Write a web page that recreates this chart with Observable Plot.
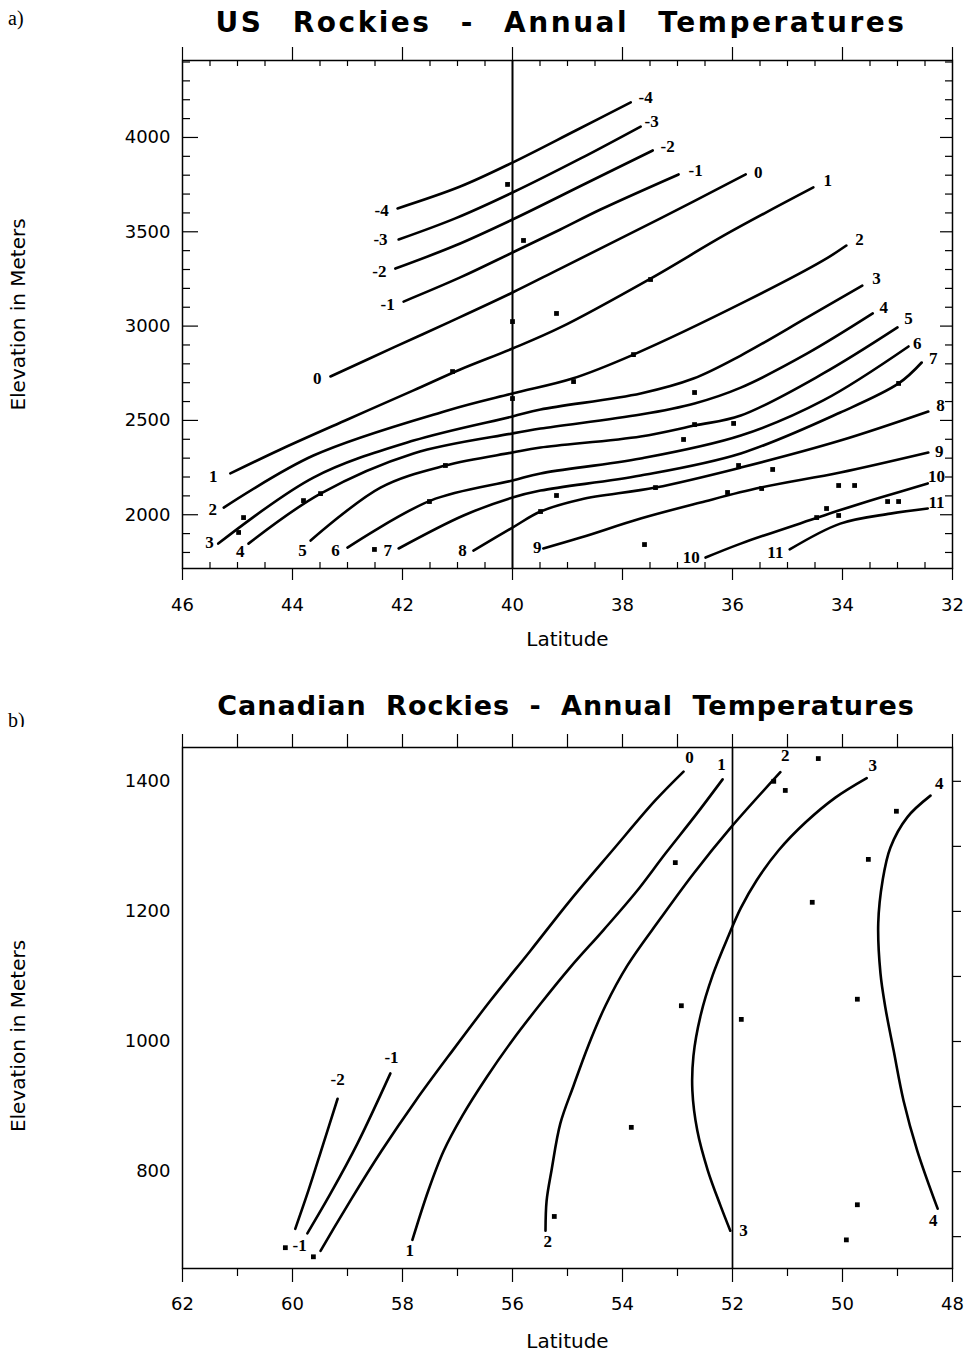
<!DOCTYPE html>
<html><head><meta charset="utf-8">
<script src="https://cdn.jsdelivr.net/npm/d3@7"></script>
<script src="https://cdn.jsdelivr.net/npm/@observablehq/plot@0.6"></script>
<style>
body{margin:0;background:#fff;}
#wrap{position:relative;width:971px;height:1363px;overflow:hidden;background:#fff;}
.tag{position:absolute;left:8px;font-family:"Liberation Serif",serif;font-size:20px;line-height:1;}
.title{position:absolute;font-family:"DejaVu Sans",sans-serif;font-weight:bold;line-height:1;white-space:pre;transform:translateX(-50%);}
.svgbox{position:absolute;left:0;}
</style></head><body>
<div id="wrap">
<div class="tag" style="top:8px">a)</div>
<div class="title" id="ta" style="left:561px;top:9px;font-size:28px;letter-spacing:2.5px;word-spacing:17px">US Rockies - Annual Temperatures</div>
<div class="svgbox" id="pa" style="top:40px"></div>
<div class="tag" style="top:710px">b)</div>
<div class="title" id="tb" style="left:566px;top:692px;font-size:27px;letter-spacing:1px;word-spacing:9px">Canadian Rockies - Annual Temperatures</div>
<div class="svgbox" id="pb" style="top:727px"></div>
</div>
<script>
// ---------- Panel a: US Rockies (latitude, elevation m) ----------
const usLevels = [-4,-3,-2,-1,0,1,2,3,4,5,6,7,8,9,10,11];
const usLineM4 = [[42.09,3624],[40.95,3740],[40.00,3867],[38.85,4037],[37.85,4186]];
const usLineM3 = [[42.07,3459],[41.04,3571],[40.00,3708],[38.76,3889],[37.67,4058]];
const usLineM2 = [[42.13,3305],[41.04,3427],[40.00,3565],[38.67,3756],[37.45,3931]];
const usLineM1 = [[41.98,3130],[40.95,3258],[40.00,3390],[39.13,3512],[38.40,3618],[36.98,3804]];
const usLine0 = [[43.31,2733],[42.16,2887],[41.13,3024],[40.00,3178],[39.13,3305],[37.31,3571],[35.76,3804]];
const usLine1 = [[45.13,2219],[44.22,2346],[43.00,2505],[41.80,2659],[40.95,2770],[40.00,2881],[39.13,2993],[37.49,3252],[36.09,3491],[34.53,3735]];
const usLine2 = [[45.25,2038],[43.62,2314],[41.18,2553],[40.00,2643],[38.91,2722],[37.80,2849],[35.73,3136],[34.35,3348],[33.93,3427]];
const usLine3 = [[45.35,1847],[43.62,2197],[41.80,2393],[40.00,2521],[39.49,2558],[37.67,2643],[36.71,2722],[35.85,2844],[34.64,3046],[33.64,3215]];
const usLine4 = [[44.80,1847],[43.49,2112],[41.80,2325],[40.00,2431],[39.49,2457],[37.67,2531],[36.69,2590],[35.85,2674],[34.64,2855],[33.45,3067]];
const usLine5 = [[43.67,1863],[42.40,2144],[41.22,2261],[40.00,2330],[39.49,2356],[37.67,2415],[36.69,2473],[35.85,2526],[34.35,2749],[33.00,2993]];
const usLine6 = [[43.00,1826],[41.49,2075],[40.00,2181],[39.49,2219],[37.67,2298],[35.85,2420],[34.35,2606],[32.80,2892]];
const usLine7 = [[42.07,1821],[40.89,1996],[40.00,2091],[39.49,2128],[37.67,2208],[35.85,2325],[34.04,2542],[32.98,2696],[32.56,2807]];
const usLine8 = [[40.71,1810],[40.00,1932],[39.49,2017],[38.76,2081],[37.40,2144],[35.85,2250],[34.04,2393],[32.44,2547]];
const usLine9 = [[39.44,1821],[38.76,1879],[37.67,1980],[36.58,2065],[35.49,2144],[34.04,2224],[32.44,2330]];
const usLine10 = [[36.49,1773],[35.85,1847],[34.45,1985],[34.07,2022],[33.31,2091],[32.45,2166]];
const usLine11 = [[34.96,1816],[34.04,1953],[33.13,2006],[32.45,2033]];
const usPoints = [[40.09,3751],[39.80,3454],[39.20,3067],[40.00,3024],[37.49,3247],[41.09,2759],[37.80,2849],[38.89,2706],
  [40.00,2616],[36.69,2648],[36.69,2478],[36.89,2399],[35.98,2484],[32.98,2696],[41.22,2261],[41.51,2070],[43.80,2075],
  [43.49,2112],[44.89,1985],[44.98,1906],[42.51,1816],[39.49,2017],[39.20,2102],[35.89,2261],[35.27,2240],[37.40,2144],
  [36.09,2118],[35.47,2139],[34.07,2155],[33.78,2155],[33.18,2070],[32.98,2070],[34.29,2033],[34.47,1985],[34.07,1996],[37.60,1842]];
const usLabels = [["-4",42.38,3613],["-3",42.40,3459],["-2",42.42,3290],["-1",42.27,3115],["0",43.55,2722],["1",45.44,2203],
  ["2",45.45,2028],["3",45.51,1853],["4",44.95,1805],["5",43.82,1810],["6",43.22,1810],["7",42.27,1810],["8",40.91,1810],
  ["9",39.55,1826],["10",36.75,1773],["11",35.22,1800],
  ["-4",37.58,4212],["-3",37.47,4085],["-2",37.18,3952],["-1",36.67,3825],["0",35.53,3814],["1",34.27,3772],["2",33.69,3459],
  ["3",33.38,3252],["4",33.25,3099],["5",32.80,3040],["6",32.64,2908],["7",32.35,2828],["8",32.22,2579],["9",32.24,2335],
  ["10",32.29,2203],["11",32.29,2065]];
const usLatTicks = [46,44,42,40,38,36,34,32];
const usElevTicks = [2000,2500,3000,3500,4000];
const usDivide = [40];

// ---------- Panel b: Canadian Rockies ----------
const caLevels = [-2,-1,0,1,2,3,4];
const caLineM2 = [[59.18,912],[59.45,840],[59.71,771],[59.95,712]];
const caLineM1 = [[58.22,951],[58.82,843],[59.31,766],[59.73,705]];
const caLine0 = [[52.89,1415],[53.40,1371],[54.18,1294],[54.95,1217],[55.67,1140],[56.40,1063],[57.09,986],[57.76,909],[58.38,832],[58.95,755],[59.49,678]];
const caLine1 = [[52.18,1403],[52.67,1348],[53.22,1289],[53.76,1229],[54.35,1171],[54.95,1114],[55.49,1058],[56.00,1002],[56.47,945],[56.91,886],[57.25,832],[57.53,771],[57.82,695]];
const caLine2 = [[51.13,1414],[52.04,1328],[52.71,1258],[53.31,1189],[53.91,1117],[54.31,1055],[54.62,994],[54.89,932],[55.13,874],[55.29,802],[55.38,755],[55.40,709]];
const caLine3 = [[49.56,1405],[50.13,1375],[50.67,1337],[51.16,1294],[51.56,1248],[51.85,1205],[52.07,1163],[52.36,1102],[52.58,1040],[52.71,978],[52.73,925],[52.64,863],[52.45,802],[52.22,748],[52.04,709]];
const caLine4 = [[48.40,1378],[48.82,1345],[49.13,1298],[49.27,1248],[49.35,1182],[49.31,1105],[49.22,1052],[49.07,986],[48.89,909],[48.64,832],[48.27,743]];
const caPoints = [[53.04,1275],[52.93,1055],[51.84,1034],[51.25,1400],[51.04,1386],[50.44,1435],[50.55,1214],[49.02,1354],
  [49.53,1280],[49.73,1065],[53.84,868],[49.73,749],[49.93,695],[55.24,731],[60.13,683],[59.62,669]];
const caLabels = [["0",52.78,1437],["1",52.20,1426],["2",51.04,1440],["3",49.45,1425],["4",48.24,1397],["-2",59.18,942],
  ["-1",58.20,975],["-1",59.87,686],["1",57.87,678],["2",55.36,692],["3",51.80,709],["4",48.35,725]];
const caLatTicks = [62,60,58,56,54,52,50,48];
const caElevTicks = [800,1000,1200,1400];
const caDivide = [52];

const W = 971;
const toTable = (lines, levels) => lines.flatMap((pts, i) => pts.map(([lat, elev]) => ({level: levels[i], lat, elev})));
const fontStyle = {fontFamily: "DejaVu Sans", fontSize: "18px", color: "#000", background: "#fff", overflow: "visible"};
const num = d => String(d);
const TICKF = 18, LABF = 20;

// ----- Plot a -----
{
  const lines = toTable([usLineM4,usLineM3,usLineM2,usLineM1,usLine0,usLine1,usLine2,usLine3,usLine4,usLine5,usLine6,usLine7,usLine8,usLine9,usLine10,usLine11], usLevels);
  const dx = [46, 32], dy = [1715, 4408];
  const mt = 20, mb = 92, ml = 182, mr = 19, h = 620;
  const ypp = (dy[1] - dy[0]) / (h - mt - mb), xpp = (dx[0] - dx[1]) / (W - ml - mr);
  const latMinor = d3.range(32.5, 46, 0.5).filter(d => d % 2 !== 0);
  const elevAll = d3.range(1800, 4401, 100);
  const elevMinor = elevAll.filter(d => d % 500 !== 0);
  const elevMajor = elevAll.filter(d => d % 500 === 0);
  const k = {stroke: "#000", strokeWidth: 1.2};
  const plot = Plot.plot({
    width: W, height: h, marginTop: mt, marginBottom: mb, marginLeft: ml, marginRight: mr,
    x: {domain: dx}, y: {domain: dy}, style: fontStyle,
    marks: [
      Plot.axisX({ticks: usLatTicks, tickSize: 0, tickPadding: 30, tickFormat: num, label: null, fontSize: TICKF}),
      Plot.axisY({ticks: usElevTicks, tickSize: 0, tickPadding: 12, tickFormat: num, label: null, fontSize: TICKF}),
      Plot.ruleX(latMinor, {x: d => d, y1: dy[0], y2: dy[0] + 6 * ypp, ...k}),
      Plot.ruleX(usLatTicks, {x: d => d, y1: dy[0], y2: dy[0] - 12 * ypp, ...k}),
      Plot.ruleX(latMinor, {x: d => d, y1: dy[1], y2: dy[1] - 6 * ypp, ...k}),
      Plot.ruleX(usLatTicks, {x: d => d, y1: dy[1], y2: dy[1] + 13 * ypp, ...k}),
      Plot.ruleY(elevMinor, {y: d => d, x1: dx[0], x2: dx[0] - 8 * xpp, ...k}),
      Plot.ruleY(elevMajor, {y: d => d, x1: dx[0], x2: dx[0] - 16 * xpp, ...k}),
      Plot.ruleY(elevMinor, {y: d => d, x1: dx[1], x2: dx[1] + 7 * xpp, ...k}),
      Plot.ruleY(elevMajor, {y: d => d, x1: dx[1], x2: dx[1] + 12 * xpp, ...k}),
      Plot.frame({stroke: "#000", strokeWidth: 1.5}),
      Plot.ruleX(usDivide, {x: d => d, stroke: "#000", strokeWidth: 2}),
      Plot.line(lines, {x: "lat", y: "elev", z: "level", curve: "catmull-rom", stroke: "#000", strokeWidth: 2.6}),
      Plot.dot(usPoints, {x: d => d[0], y: d => d[1], symbol: "square", r: 2.7, fill: "#000", stroke: "none"}),
      Plot.text(usLabels, {x: d => d[1], y: d => d[2], text: d => d[0], fontFamily: "Liberation Serif", fontWeight: "bold", fontSize: 17, fill: "#000"}),
      Plot.text(["Latitude"], {frameAnchor: "bottom", dy: 77, textAnchor: "middle", text: d => d, fontSize: LABF, fill: "#000"}),
      Plot.text(["Elevation in Meters"], {frameAnchor: "left", dx: -164, textAnchor: "middle", rotate: -90, text: d => d, fontSize: LABF, fill: "#000"})
    ]
  });
  document.getElementById("pa").appendChild(plot);
}

// ----- Plot b -----
{
  const lines = toTable([caLineM2,caLineM1,caLine0,caLine1,caLine2,caLine3,caLine4], caLevels);
  const dx = [62, 48], dy = [651, 1452];
  const mt = 20, mb = 95, ml = 182, mr = 19, h = 636;
  const ypp = (dy[1] - dy[0]) / (h - mt - mb), xpp = (dx[0] - dx[1]) / (W - ml - mr);
  const latAll = d3.range(48, 62.5, 1);
  const latOdd = latAll.filter(d => d % 2 !== 0);
  const elevRight = d3.range(700, 1401, 100);
  const k = {stroke: "#000", strokeWidth: 1.2};
  const plot = Plot.plot({
    width: W, height: h, marginTop: mt, marginBottom: mb, marginLeft: ml, marginRight: mr,
    x: {domain: dx}, y: {domain: dy}, style: fontStyle,
    marks: [
      Plot.axisX({ticks: caLatTicks, tickSize: 0, tickPadding: 29, tickFormat: num, label: null, fontSize: TICKF}),
      Plot.axisY({ticks: caElevTicks, tickSize: 0, tickPadding: 12, tickFormat: num, label: null, fontSize: TICKF}),
      Plot.ruleX(latAll, {x: d => d, y1: dy[1], y2: dy[1] + 13 * ypp, ...k}),
      Plot.ruleX(latOdd, {x: d => d, y1: dy[0], y2: dy[0] - 8 * ypp, ...k}),
      Plot.ruleX(caLatTicks, {x: d => d, y1: dy[0], y2: dy[0] - 14 * ypp, ...k}),
      Plot.ruleY(elevRight, {y: d => d, x1: dx[1], x2: dx[1] - 9 * xpp, ...k}),
      Plot.frame({stroke: "#000", strokeWidth: 1.5}),
      Plot.ruleX(caDivide, {x: d => d, stroke: "#000", strokeWidth: 1.7}),
      Plot.line(lines, {x: "lat", y: "elev", z: "level", curve: "catmull-rom", stroke: "#000", strokeWidth: 2.6}),
      Plot.dot(caPoints, {x: d => d[0], y: d => d[1], symbol: "square", r: 2.7, fill: "#000", stroke: "none"}),
      Plot.text(caLabels, {x: d => d[1], y: d => d[2], text: d => d[0], fontFamily: "Liberation Serif", fontWeight: "bold", fontSize: 17, fill: "#000"}),
      Plot.text(["Latitude"], {frameAnchor: "bottom", dy: 79, textAnchor: "middle", text: d => d, fontSize: LABF, fill: "#000"}),
      Plot.text(["Elevation in Meters"], {frameAnchor: "left", dx: -164, dy: 28, textAnchor: "middle", rotate: -90, text: d => d, fontSize: LABF, fill: "#000"})
    ]
  });
  document.getElementById("pb").appendChild(plot);
}
</script>
</body></html>
